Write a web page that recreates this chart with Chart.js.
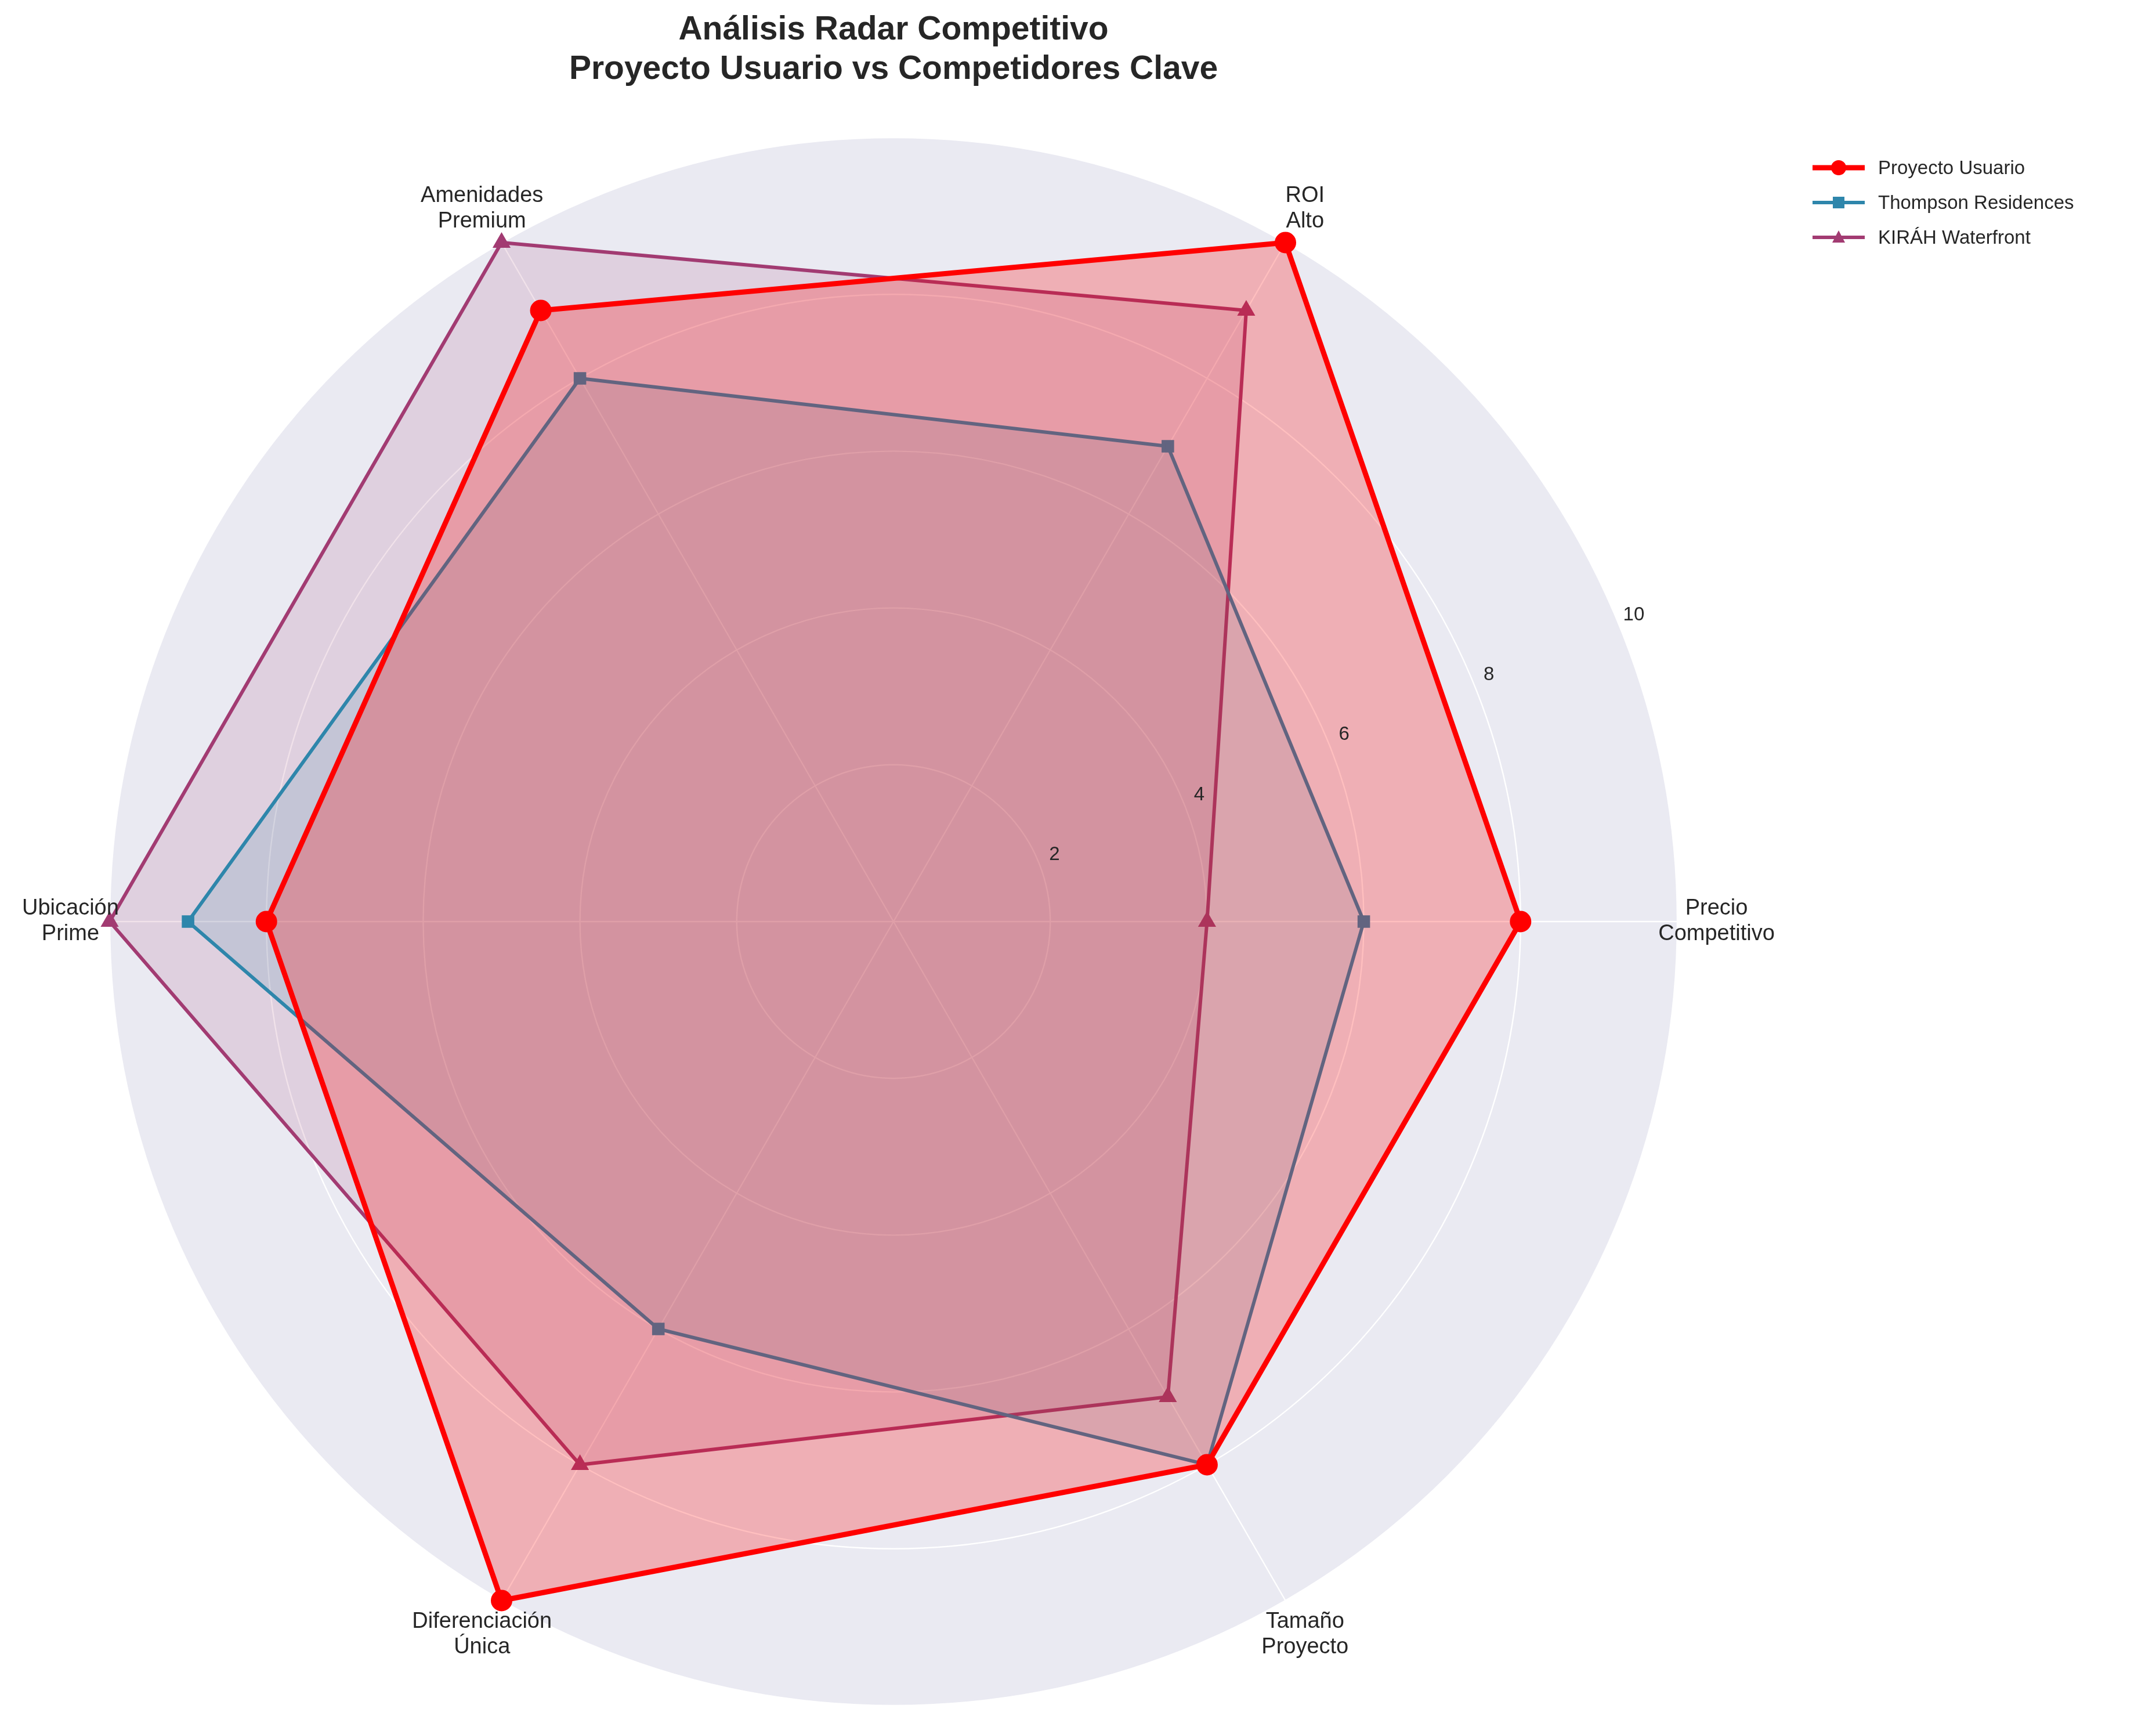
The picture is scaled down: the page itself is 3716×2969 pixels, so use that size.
<!DOCTYPE html>
<html>
<head>
<meta charset="utf-8">
<script src="https://cdn.jsdelivr.net/npm/chart.js@4.4.0/dist/chart.umd.min.js"></script>
<style>
  html, body { margin: 0; padding: 0; background: #ffffff; }
  #wrap { width: 3716px; height: 2969px; }
</style>
</head>
<body>
<div id="wrap"><canvas id="radarChart"></canvas></div>
<script>
// Order is clockwise from the right (Chart.js goes clockwise)
const categories = [
    ['Precio', 'Competitivo'],
    ['Tamaño', 'Proyecto'],
    ['Diferenciación', 'Única'],
    ['Ubicación', 'Prime'],
    ['Amenidades', 'Premium'],
    ['ROI', 'Alto']
];
const proyectoUsuario = [8, 8, 10, 8, 9, 10];
const thompson = [6, 8, 6, 9, 8, 7];
const kirah = [4, 7, 8, 10, 10, 9];
const tickLabels = [2, 4, 6, 8, 10];

const FONT = '"Liberation Sans", "DejaVu Sans", sans-serif';

// Gray circular background behind the grid
const backgroundPlugin = {
    id: 'polarBg',
    beforeDraw(chart) {
        const s = chart.scales.r;
        const ctx = chart.ctx;
        ctx.save();
        ctx.beginPath();
        ctx.arc(s.xCenter, s.yCenter, s.drawingArea, 0, Math.PI * 2);
        ctx.fillStyle = '#EAEAF2';
        ctx.fill();
        ctx.restore();
    }
};

// Category labels, tick labels, title and legend
const labelsPlugin = {
    id: 'extraLabels',
    afterDraw(chart) {
        const s = chart.scales.r;
        const ctx = chart.ctx;
        ctx.save();
        ctx.fillStyle = '#262626';
        ctx.textAlign = 'center';
        ctx.textBaseline = 'middle';
        ctx.font = '38px ' + FONT;
        categories.forEach((lines, i) => {
            const p = s.getPointPositionForValue(i, 10.5);
            ctx.fillText(lines[0], p.x, p.y - 22);
            ctx.fillText(lines[1], p.x, p.y + 22);
        });

        // radial tick labels at 22.5 degrees
        ctx.font = '33px ' + FONT;
        const a = -22.5 * Math.PI / 180;
        tickLabels.forEach(t => {
            const r = s.getDistanceFromCenterForValue(t) + 30;
            ctx.fillText(String(t), s.xCenter + r * Math.cos(a), s.yCenter + r * Math.sin(a));
        });

        // title
        ctx.font = 'bold 57px ' + FONT;
        ctx.fillText('Análisis Radar Competitivo', 1540, 52);
        ctx.fillText('Proyecto Usuario vs Competidores Clave', 1540, 120);

        // legend
        ctx.textAlign = 'left';
        ctx.font = '33px ' + FONT;
        chart.data.datasets.forEach((ds, i) => {
            const y = 289 + i * 60;
            ctx.strokeStyle = ds.borderColor;
            ctx.lineWidth = ds.borderWidth;
            ctx.beginPath();
            ctx.moveTo(3124, y);
            ctx.lineTo(3214, y);
            ctx.stroke();
            ctx.fillStyle = ds.borderColor;
            const m = 3169;
            ctx.beginPath();
            if (ds.pointStyle === 'circle') {
                ctx.arc(m, y, 13, 0, Math.PI * 2);
            } else if (ds.pointStyle === 'rect') {
                ctx.rect(m - 10, y - 10, 20, 20);
            } else {
                ctx.moveTo(m, y - 12); ctx.lineTo(m + 11, y + 9); ctx.lineTo(m - 11, y + 9); ctx.closePath();
            }
            ctx.fill();
            ctx.fillStyle = '#262626';
            ctx.fillText(ds.label, 3237, y + 2);
        });
        ctx.restore();
    }
};

const ctx = document.getElementById('radarChart').getContext('2d');

new Chart(ctx, {
    type: 'radar',
    data: {
        labels: categories,
        datasets: [{
            label: 'Proyecto Usuario',
            data: proyectoUsuario,
            borderColor: '#FF0000',
            backgroundColor: 'rgba(255, 0, 0, 0.25)',
            borderWidth: 9,
            pointStyle: 'circle',
            pointRadius: 14,
            pointBackgroundColor: '#FF0000',
            pointBorderColor: '#FF0000',
            fill: true,
            order: 1
        }, {
            label: 'Thompson Residences',
            data: thompson,
            borderColor: '#2E86AB',
            backgroundColor: 'rgba(46, 134, 171, 0.15)',
            borderWidth: 6,
            pointStyle: 'rect',
            pointRadius: 11,
            pointBackgroundColor: '#2E86AB',
            pointBorderColor: '#2E86AB',
            fill: true,
            order: 2
        }, {
            label: 'KIRÁH Waterfront',
            data: kirah,
            borderColor: '#A23B72',
            backgroundColor: 'rgba(162, 59, 114, 0.15)',
            borderWidth: 6,
            pointStyle: 'triangle',
            pointRadius: 12,
            pointBackgroundColor: '#A23B72',
            pointBorderColor: '#A23B72',
            fill: true,
            order: 3
        }]
    },
    options: {
        responsive: true,
        maintainAspectRatio: false,
        animation: false,
        layout: {
            padding: { left: 189, top: 237, right: 825, bottom: 30 }
        },
        plugins: {
            legend: { display: false },
            tooltip: { enabled: false }
        },
        elements: { line: { tension: 0 } },
        scales: {
            r: {
                min: 0,
                max: 10,
                startAngle: 90,
                ticks: { display: false, stepSize: 2 },
                grid: { circular: true, color: '#ffffff', lineWidth: 2.4 },
                angleLines: { color: '#ffffff', lineWidth: 2.4 },
                pointLabels: { display: false }
            }
        }
    },
    plugins: [backgroundPlugin, labelsPlugin]
});
</script>
</body>
</html>
